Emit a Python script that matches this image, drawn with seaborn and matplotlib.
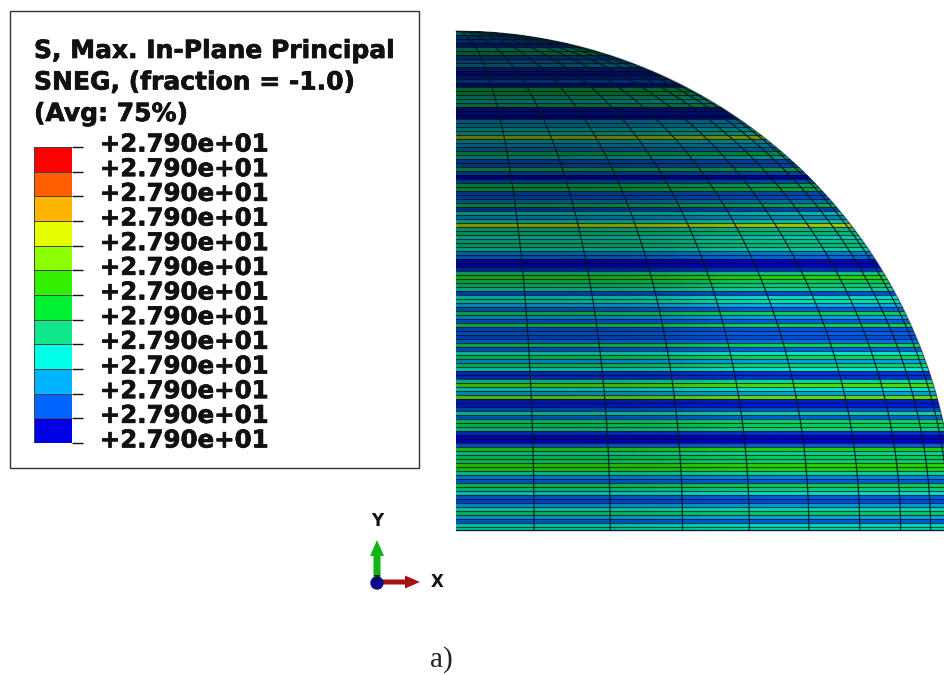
import numpy as np
import pandas as pd
import matplotlib
matplotlib.use("Agg")
import matplotlib.pyplot as plt
import matplotlib.patheffects as pe
import seaborn as sns
from matplotlib.colors import ListedColormap, LinearSegmentedColormap
from matplotlib.patches import Circle, Rectangle, FancyArrow
from matplotlib.transforms import ScaledTranslation

# legend
title_lines = ["S, Max. In-Plane Principal", "SNEG, (fraction = -1.0)", "(Avg: 75%)"]
legend_labels = ["+2.790e+01"] * 13
legend_colors = ["#ff0000", "#ff5f00", "#ffb400", "#e6ff00", "#8cff00", "#32f000",
                 "#00f032", "#10e68c", "#00ffe6", "#00b4ff", "#0064ff", "#0000e6"]

# stress level of each horizontal element band, top to bottom
band_values = [
    .30, .10, .10, .05, .33,
    .39, .10, .15, .20, .05,
    .02, .05, .10, .02, .41,
    .41, .33, .28, .38, .02,
    .02, .00, .20, .20, .25,
    .28, .72, .25, .20, .15,
    .41, .25, .10, .10, .39,
    .10, .00, .10, .39, .41,
    .10, .10, .15, .41, .08,
    .28, .18, .28, .72, .33,
    .36, .28, .33, .36, .30,
    .15, .12, .00, .00, .05,
    .36, .54, .41, .38, .33,
    .08, .28, .30, .20, .10,
    .41, .18, .10, .41, .08,
    .10, .08, .12, .41, .10,
    .28, .41, .18, .38, .28,
    .05, .05, .33, .58, .28,
    .18, .60, .03, .03, .08,
    .33, .10, .39, .41, .36,
    .05, .00, .00, .10, .52,
    .33, .41, .38, .54, .50,
    .33, .15, .10, .41, .36,
    .28, .10, .08, .18, .30,
    .39, .20, .10, .30, .28,
]

# how dark the shell looks, rows top to bottom, columns left to right
shade_grid = [
    [.62, .62, .62, .60, .60, .58, .55, .52, .50, .50],
    [.56, .56, .56, .55, .54, .52, .48, .45, .42, .42],
    [.52, .52, .52, .50, .47, .44, .40, .37, .34, .34],
    [.45, .45, .45, .43, .41, .36, .31, .28, .28, .28],
    [.36, .36, .36, .34, .30, .20, .17, .17, .17, .17],
    [.30, .30, .30, .28, .24, .12, .10, .10, .10, .10],
    [.28, .28, .28, .26, .22, .12, .08, .08, .08, .08],
    [.26, .26, .26, .25, .22, .14, .10, .10, .10, .10],
    [.24, .24, .24, .23, .20, .15, .12, .12, .12, .12],
    [.24, .24, .24, .23, .20, .16, .14, .14, .14, .14],
]

# mesh meridians, degrees from the centre line
meridian_deg = [9, 18, 27, 36, 45, 54, 63, 72, 81]

W, H = 944, 675
SX0, SX1, SY0, SY1 = 456, 944, 31, 531
RADIUS = 499


def px_axes(fig, x0, y0, x1, y1):
    return fig.add_axes([x0 / W, 1 - y1 / H, (x1 - x0) / W, (y1 - y0) / H])


sns.set_theme(style="white")
plt.rcParams["font.family"] = ["DejaVu Sans"]
heavy = [pe.withStroke(linewidth=0.5, foreground="#111111")]

fig = plt.figure(figsize=(W / 100, H / 100), dpi=100)
fig.patch.set_facecolor("white")

ov = fig.add_axes([0, 0, 1, 1], zorder=2)
ov.set_xlim(0, W)
ov.set_ylim(H, 0)
ov.axis("off")
ov.patch.set_visible(False)

# shell
sphere = px_axes(fig, SX0, SY0, SX1, SY1)
sphere.set_zorder(1)
band_cmap = sns.blend_palette(legend_colors[::-1], as_cmap=True)
bands = pd.DataFrame({"S": band_values})
sns.heatmap(bands, ax=sphere, cmap=band_cmap, vmin=0, vmax=1, cbar=False,
            xticklabels=False, yticklabels=False)
outline = Circle((SX0, 530), RADIUS, transform=ov.transData)
sphere.collections[0].set_clip_path(outline)

# thin element edges between the bands
edges = sphere.hlines(np.arange(len(band_values)), 0, 1, color="#03161c", lw=0.8, alpha=0.7, zorder=2)
edges.set_clip_path(outline)

shade_cmap = LinearSegmentedColormap.from_list("shade", [(0, 0, 0, 0), (0, 0, 0, 1)])
shade_img = sphere.imshow(shade_grid, extent=(0, 1, len(band_values), 0), aspect="auto",
                          cmap=shade_cmap, vmin=0, vmax=1, interpolation="bicubic", zorder=3)
shade_img.set_clip_path(outline)
sphere.set_xlim(0, 1)
sphere.set_ylim(len(band_values), 0)
sphere.axis("off")

# meridians
ys = np.arange(SY0, 531)
half = np.sqrt(np.maximum(RADIUS ** 2 - (530 - ys) ** 2, 0))
for deg in meridian_deg:
    line, = ov.plot(SX0 + half * np.sin(np.radians(deg)), ys, color="#04181f", lw=0.9, alpha=0.85)
    line.set_clip_path(outline)
rim, = ov.plot(SX0 + half, ys, color="#04181f", lw=0.8, alpha=0.6)
ov.plot([SX0, SX1], [530, 530], color="#06201f", lw=1)

# legend box
ov.add_patch(Rectangle((10, 11), 409, 457, facecolor="white", edgecolor="#333333", lw=1))
for i, txt in enumerate(title_lines):
    ov.text(34, 51 + i * 31.5, txt, fontsize=18, fontweight="bold", color="#111111",
            ha="left", va="center", path_effects=heavy)

bar = px_axes(fig, 34, 147, 72, 443)
bar.set_zorder(3)
sns.heatmap(np.arange(12)[:, None], ax=bar, cmap=ListedColormap(legend_colors), cbar=False,
            xticklabels=False, linewidths=0.4, linecolor="#444444")
bar.set_yticks(np.arange(13))
bar.set_yticklabels(legend_labels, rotation=0, fontsize=17.6, fontweight="bold", color="#111111",
                    path_effects=heavy)
bar.yaxis.tick_right()
bar.tick_params(axis="y", right=True, left=False, length=8, width=1, color="#111111", pad=12)
shift = ScaledTranslation(0, 5 / 100, fig.dpi_scale_trans)
for lab in bar.get_yticklabels():
    lab.set_transform(lab.get_transform() + shift)

# triad
ov.add_patch(FancyArrow(377, 582, 0, -42, width=7, head_width=14, head_length=16,
                        length_includes_head=True, color="#12b312", lw=0))
ov.add_patch(FancyArrow(377, 582, 43, 0, width=5, head_width=13, head_length=15,
                        length_includes_head=True, color="#a81010", lw=0))
ov.add_patch(Circle((377, 583), 6, color="#0a0a90", zorder=4))
ov.text(377, 521, "Y", fontsize=12, fontweight="bold", color="#111111", ha="center", va="center")
ov.text(437, 582, "X", fontsize=12, fontweight="bold", color="#111111", ha="center", va="center")
ov.text(377, 579, "Z", fontsize=6, fontweight="bold", color="#111111", ha="center", va="center", zorder=5)

ov.text(441, 660, "a)", fontsize=21, family="Liberation Serif", color="#222222", ha="center", va="center")

fig.savefig("out.png", dpi=100)
